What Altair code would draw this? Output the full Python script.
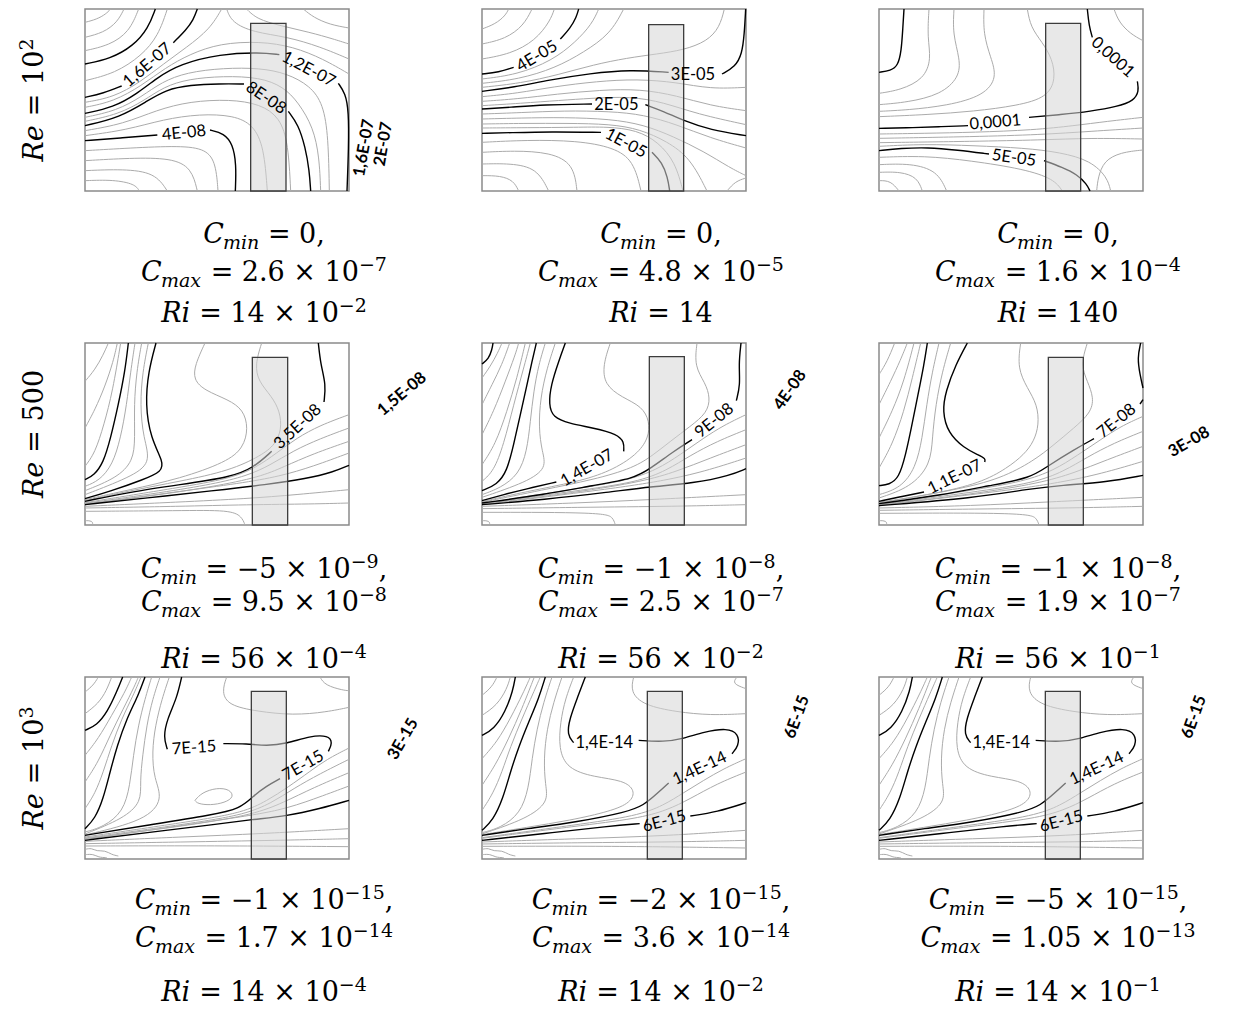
import altair as alt
import pandas as pd

# ---------------------------------------------------------------
# Concentration iso-lines behind a porous block, for three Reynolds
# numbers (rows) and three Richardson numbers (columns).
# Field coordinates are grid units of the sampled domain.
# ---------------------------------------------------------------
XLIM = (15, 807)
YLIM = (15, 561)
PANEL_W, PANEL_H = 264, 182
COL_GAP, ROW_GAP = 133, 152

GRAY = "#ababab"
MATH_FONT = "DejaVu Serif"
LABEL_FONT = "Lato"

RE = ["10^2", "500", "10^3"]
CMIN = ["0", "0", "0", "−5 × 10^−9", "−1 × 10^−8", "−1 × 10^−8",
        "−1 × 10^−15", "−2 × 10^−15", "−5 × 10^−15"]
CMAX = ["2.6 × 10^−7", "4.8 × 10^−5", "1.6 × 10^−4", "9.5 × 10^−8", "2.5 × 10^−7",
        "1.9 × 10^−7", "1.7 × 10^−14", "3.6 × 10^−14", "1.05 × 10^−13"]
RI = ["14 × 10^−2", "14", "140", "56 × 10^−4", "56 × 10^−2", "56 × 10^−1",
      "14 × 10^−4", "14 × 10^−2", "14 × 10^−1"]

# porous block: left, right, top (bottom is the wall)
BOXES = [(512, 618, 58), (515, 620, 62), (515, 620, 58),
         (517, 623, 58), (517, 622, 56), (523, 628, 58),
         (514, 619, 58), (511, 616, 58), (514, 619, 58)]

# level labels of the far-field iso-lines, written past the right edge
EDGE_LABELS = [
    [("1,6E-07", 852, 432, 280), ("2E-07", 910, 420, 280)],
    [], [],
    [("1,5E-08", 966, 168, 320)],
    [("4E-08", 939, 156, 305)],
    [("3E-08", 945, 312, 330)],
    [("3E-15", 969, 201, 300)],
    [("6E-15", 960, 135, 290)],
    [("6E-15", 960, 135, 290)],
]

# ---------------- Re = 1e2, Ri = 14e-2 ----------------
P1_GRAY = [
    [(15, 55), (50, 46), (78, 30), (92, 15)],
    [(15, 100), (70, 86), (112, 55), (132, 15)],
    [(15, 140), (88, 124), (148, 84), (176, 15)],
    [(15, 230), (105, 208), (185, 155), (235, 95), (262, 15)],
    [(15, 295), (100, 280), (180, 235), (250, 180), (320, 130), (390, 75), (425, 15)],
    [(15, 310), (100, 293), (185, 245), (255, 192), (330, 150), (420, 118), (540, 112),
     (640, 128), (730, 165), (807, 210)],
    [(440, 15), (455, 55), (520, 85), (620, 98), (720, 128), (807, 165)],
    [(500, 15), (530, 45), (600, 65), (690, 85), (760, 105), (807, 120)],
    [(670, 15), (700, 40), (750, 62), (807, 72)],
    [(15, 340), (110, 320), (185, 278), (245, 234), (320, 205), (430, 192), (540, 192),
     (620, 208), (690, 245), (730, 300), (745, 400), (748, 561)],
    [(15, 352), (115, 331), (192, 290), (252, 248), (325, 225), (430, 216), (540, 220),
     (610, 248), (655, 295), (700, 370), (718, 460), (722, 561)],
    [(15, 380), (130, 360), (230, 318), (330, 292), (450, 286), (540, 300), (600, 340),
     (625, 420), (632, 561)],
    [(15, 395), (140, 378), (250, 346), (360, 330), (460, 334), (520, 362), (552, 430), (562, 561)],
    [(15, 440), (150, 432), (300, 425), (380, 435), (408, 480), (414, 561)],
    [(15, 470), (150, 462), (275, 462), (335, 492), (352, 561)],
    [(15, 500), (130, 495), (225, 506), (262, 561)],
    [(15, 530), (100, 527), (165, 540), (178, 561)],
]
P1_BLACK = [
    [(15, 180), (90, 165), (160, 126), (205, 72), (226, 15)],
    [(15, 280), (70, 268), (125, 246)],
    [(280, 116), (318, 78), (340, 48), (352, 15)],
    [(15, 328), (100, 310), (170, 270), (230, 222), (300, 180), (420, 150), (540, 145), (598, 152)],
    [(775, 238), (796, 268), (806, 320), (806, 430), (801, 561)],
    [(15, 365), (120, 340), (200, 292), (258, 257), (330, 243), (420, 239), (492, 240)],
    [(625, 322), (655, 362), (676, 430), (688, 500), (692, 561)],
    [(15, 410), (120, 402), (232, 393)],
    [(390, 378), (432, 388), (458, 420), (469, 480), (466, 561)],
]
P1_LABELS = [("1,6E-07", 202, 183, 319), ("1,2E-07", 686, 196, 28),
             ("8E-08", 558, 282, 34), ("4E-08", 312, 387, 354)]

# ---------------- Re = 1e2, Ri = 14 ----------------
P2_GRAY = [
    [(15, 75), (55, 60), (85, 35), (95, 15)],
    [(15, 120), (85, 105), (140, 65), (165, 15)],
    [(15, 165), (100, 150), (175, 110), (220, 50), (232, 15)],
    [(15, 225), (120, 212), (225, 170), (295, 115), (345, 60), (365, 15)],
    [(15, 238), (125, 226), (235, 192), (320, 145), (400, 90), (440, 15)],
    [(15, 250), (130, 238), (245, 212), (350, 182), (450, 162), (540, 150), (620, 138),
     (690, 112), (728, 70), (742, 15)],
    [(15, 278), (120, 268), (230, 248), (360, 232), (480, 225), (600, 235), (700, 255), (807, 250)],
    [(15, 292), (120, 285), (240, 270), (370, 258), (490, 255), (600, 275), (700, 305), (807, 320)],
    [(15, 305), (130, 298), (250, 289), (340, 283), (460, 277), (560, 295), (660, 330), (807, 362)],
    [(15, 330), (130, 326), (260, 320), (400, 322), (500, 332), (600, 362), (700, 402), (807, 432)],
    [(15, 345), (130, 342), (260, 340), (400, 345), (500, 362), (590, 398), (680, 442),
     (760, 492), (807, 515)],
    [(15, 360), (140, 358), (270, 358), (400, 360), (490, 376), (570, 412), (640, 462), (690, 561)],
    [(15, 372), (150, 371), (300, 370), (390, 368), (480, 378), (545, 415), (595, 475), (618, 561)],
    [(15, 415), (150, 408), (300, 410), (410, 430), (470, 470), (492, 561)],
    [(15, 445), (110, 440), (220, 445), (290, 480), (300, 561)],
    [(15, 480), (100, 478), (180, 492), (215, 561)],
    [(15, 515), (70, 515), (110, 530), (125, 561)],
    [(750, 561), (775, 532), (807, 522)],
]
P2_BLACK = [
    [(15, 210), (65, 205), (110, 190)],
    [(250, 105), (280, 72), (298, 40), (305, 15)],
    [(15, 262), (110, 250), (215, 228), (340, 208), (460, 197), (575, 205)],
    [(735, 210), (775, 188), (795, 150), (802, 90), (806, 15)],
    [(15, 315), (100, 310), (200, 302), (345, 300)],
    [(505, 302), (560, 322), (620, 350), (700, 378), (807, 395)],
    [(15, 388), (100, 386), (220, 383), (372, 385)],
    [(525, 445), (555, 475), (572, 520), (578, 561)],
]
P2_LABELS = [("4E-05", 180, 157, 329), ("3E-05", 648, 212, 0),
             ("2E-05", 418, 302, 0), ("1E-05", 447, 418, 28)]

# ---------------- Re = 1e2, Ri = 140 ----------------
P3_GRAY = [
    [(165, 15), (160, 100), (172, 165), (150, 225), (80, 258), (15, 268)],
    [(240, 15), (236, 90), (258, 165), (256, 220), (200, 272), (100, 295), (15, 302)],
    [(330, 15), (328, 90), (350, 160), (370, 220), (330, 275), (220, 305), (100, 318), (15, 322)],
    [(460, 15), (470, 70), (505, 115), (535, 165), (545, 225), (520, 280), (430, 305),
     (300, 322), (160, 332), (15, 338)],
    [(720, 15), (735, 55), (770, 90), (807, 110)],
    [(807, 340), (700, 352), (600, 365), (480, 378), (300, 385), (150, 388), (15, 390)],
    [(807, 372), (650, 382), (500, 392), (300, 398), (15, 403)],
    [(807, 405), (650, 402), (500, 408), (300, 412), (15, 416)],
    [(15, 427), (150, 420), (300, 425), (450, 432), (560, 445), (650, 470), (700, 520), (710, 561)],
    [(807, 438), (740, 445), (690, 470), (672, 520), (668, 561)],
    [(15, 460), (150, 455), (290, 470), (450, 495), (540, 525), (565, 561)],
    [(15, 482), (110, 478), (190, 500), (218, 561)],
    [(15, 505), (80, 503), (130, 520), (145, 561)],
    [(15, 530), (50, 530), (75, 561)],
]
P3_BLACK = [
    [(15, 205), (50, 200), (72, 185), (82, 140), (86, 80), (90, 15)],
    [(15, 373), (120, 371), (200, 368), (282, 365)],
    [(465, 340), (560, 332), (650, 322), (730, 308), (780, 290), (795, 262), (790, 232)],
    [(655, 100), (645, 65), (640, 15)],
    [(15, 440), (80, 433), (160, 430), (250, 438), (345, 450)],
    [(510, 470), (565, 490), (610, 512), (638, 540), (648, 561)],
]
P3_LABELS = [("0,0001", 364, 355, 355), ("0,0001", 716, 160, 42), ("5E-05", 420, 462, 8)]

# ---------------- Re = 500, Ri = 56e-4 ----------------
P4_GRAY = [
    [(15, 130), (45, 95), (70, 50), (85, 15)],
    [(15, 270), (45, 215), (75, 145), (100, 70), (112, 15)],
    [(15, 385), (45, 345), (72, 260), (98, 160), (122, 15)],
    [(165, 15), (152, 100), (140, 200), (122, 300), (98, 380), (58, 428), (15, 445)],
    [(185, 15), (170, 100), (162, 200), (165, 300), (160, 370), (110, 420), (15, 458)],
    [(205, 15), (188, 100), (180, 200), (190, 300), (215, 375), (150, 418), (15, 470)],
    [(375, 15), (345, 80), (340, 125), (375, 158), (445, 185), (490, 215), (505, 270),
     (490, 330), (440, 372), (300, 422), (150, 455), (15, 485)],
    [(545, 15), (525, 80), (535, 130), (575, 175), (600, 220), (605, 275), (585, 320),
     (545, 352), (450, 398), (300, 430), (150, 458), (15, 488)],
    [(807, 230), (720, 262), (650, 300), (590, 345), (530, 388), (450, 422), (300, 448), (15, 494)],
    [(807, 270), (720, 302), (640, 338), (570, 382), (500, 414), (400, 438), (250, 463), (15, 496)],
    [(807, 310), (700, 347), (610, 387), (540, 417), (400, 446), (200, 476), (15, 498)],
    [(807, 345), (700, 385), (600, 415), (480, 436), (300, 460), (15, 499)],
    [(15, 505), (300, 492), (500, 482), (650, 470), (807, 455)],
    [(15, 510), (300, 505), (500, 500), (700, 498), (807, 495)],
    [(15, 520), (300, 518), (450, 516), (485, 535), (495, 561)],
    [(15, 548), (38, 548), (38, 561)],
]
P4_BLACK = [
    [(145, 15), (135, 100), (115, 200), (92, 300), (70, 375), (42, 412), (15, 425)],
    [(228, 15), (205, 100), (196, 200), (212, 300), (250, 372), (246, 400), (190, 425),
     (90, 460), (15, 482)],
    [(15, 490), (150, 462), (300, 440), (450, 418), (520, 390), (575, 340)],
    [(732, 192), (738, 140), (722, 80), (715, 15)],
    [(15, 500), (200, 480), (400, 458), (560, 440), (680, 422), (760, 402), (807, 382)],
]
P4_LABELS = [("3,5E-08", 653, 266, 317)]

# ---------------- Re = 500, Ri = 56e-2 ----------------
P5_GRAY = [
    [(15, 120), (40, 85), (62, 45), (75, 15)],
    [(15, 200), (45, 140), (75, 80), (98, 15)],
    [(15, 290), (50, 220), (85, 130), (115, 50), (125, 15)],
    [(15, 380), (55, 320), (90, 220), (120, 120), (145, 15)],
    [(15, 430), (50, 400), (80, 320), (110, 200), (140, 90), (160, 15)],
    [(205, 15), (185, 80), (170, 160), (160, 250), (150, 340), (125, 410), (70, 450), (15, 470)],
    [(235, 15), (210, 90), (190, 180), (185, 270), (195, 340), (210, 390), (150, 432), (15, 478)],
    [(400, 15), (378, 80), (382, 140), (435, 178), (495, 205), (518, 250), (515, 300),
     (480, 350), (400, 400), (300, 432), (150, 460), (15, 491)],
    [(660, 15), (652, 85), (685, 135), (700, 180), (690, 225), (640, 265), (580, 310),
     (530, 350), (470, 390), (350, 425), (200, 455), (15, 493)],
    [(807, 230), (740, 262), (680, 300), (610, 350), (540, 395), (450, 428), (300, 452), (15, 497)],
    [(807, 275), (720, 310), (640, 352), (570, 397), (480, 433), (300, 458), (15, 498)],
    [(807, 320), (700, 360), (600, 400), (500, 430), (300, 463), (15, 499)],
    [(807, 360), (700, 395), (580, 425), (400, 453), (15, 500)],
    [(15, 505), (300, 495), (520, 485), (807, 470)],
    [(15, 512), (300, 508), (600, 505), (807, 500)],
    [(15, 523), (380, 523), (408, 538), (415, 561)],
    [(15, 548), (38, 548), (38, 561)],
]
P5_BLACK = [
    [(15, 78), (35, 62), (45, 35), (48, 15)],
    [(178, 15), (165, 70), (150, 140), (130, 230), (110, 320), (90, 400), (60, 440), (15, 458)],
    [(265, 15), (245, 70), (222, 140), (215, 200), (228, 238), (275, 256), (350, 270),
     (420, 288), (442, 312), (440, 340)],
    [(238, 432), (150, 452), (80, 470), (15, 488)],
    [(15, 495), (200, 470), (350, 442), (470, 422), (520, 392), (590, 340), (645, 305)],
    [(778, 188), (790, 140), (785, 80), (792, 15)],
    [(15, 500), (200, 485), (400, 462), (520, 446), (650, 436), (760, 412), (807, 392)],
]
P5_LABELS = [("1,4E-07", 330, 390, 330), ("9E-08", 712, 248, 321)]

# ---------------- Re = 500, Ri = 56e-1 ----------------
P6_GRAY = [
    [(15, 110), (40, 70), (62, 15)],
    [(15, 200), (50, 130), (80, 65), (100, 15)],
    [(15, 300), (55, 220), (90, 130), (120, 15)],
    [(15, 390), (55, 320), (90, 220), (115, 120), (140, 15)],
    [(195, 15), (175, 100), (158, 200), (145, 300), (125, 390), (80, 450), (15, 470)],
    [(230, 15), (205, 100), (185, 200), (175, 300), (170, 380), (110, 448), (15, 480)],
    [(440, 15), (430, 90), (460, 150), (490, 200), (495, 260), (480, 310), (450, 350),
     (400, 390), (320, 435), (180, 468), (15, 493)],
    [(640, 15), (620, 80), (640, 130), (660, 180), (650, 225), (600, 270), (540, 320),
     (480, 368), (380, 422), (250, 455), (15, 495)],
    [(807, 235), (740, 265), (680, 305), (610, 352), (540, 397), (450, 430), (300, 456), (15, 499)],
    [(807, 280), (720, 315), (640, 357), (570, 400), (480, 435), (300, 462), (15, 500)],
    [(807, 325), (700, 365), (600, 405), (500, 435), (300, 468), (15, 501)],
    [(807, 370), (700, 402), (580, 430), (400, 458), (15, 502)],
    [(15, 510), (300, 503), (520, 492), (807, 478)],
    [(15, 517), (300, 513), (600, 510), (807, 505)],
    [(15, 526), (460, 524), (488, 540), (495, 561)],
    [(15, 548), (38, 548), (38, 561)],
]
P6_BLACK = [
    [(160, 15), (150, 80), (132, 170), (112, 270), (95, 350), (75, 420), (45, 440), (15, 443)],
    [(280, 15), (245, 80), (215, 160), (205, 220), (222, 285), (270, 330), (315, 352),
     (335, 362), (332, 372)],
    [(150, 462), (85, 475), (15, 490)],
    [(15, 497), (200, 472), (350, 442), (470, 420), (520, 385), (600, 335), (660, 302)],
    [(798, 198), (807, 185)],
    [(807, 150), (798, 110), (790, 60), (800, 15)],
    [(15, 503), (300, 480), (470, 452), (560, 442), (700, 432), (807, 412)],
]
P6_LABELS = [("1,1E-07", 242, 417, 334), ("7E-08", 728, 249, 321)]

# ---------------- Re = 1e3, Ri = 14e-4 ----------------
P7_GRAY = [
    [(15, 60), (40, 40), (55, 15)],
    [(15, 125), (55, 95), (80, 55), (95, 15)],
    [(15, 250), (55, 200), (95, 130), (135, 60), (155, 15)],
    [(15, 330), (55, 270), (90, 190), (130, 110), (165, 40), (175, 15)],
    [(15, 410), (45, 365), (70, 300), (95, 220), (125, 140), (160, 70), (183, 15)],
    [(215, 15), (195, 80), (175, 160), (160, 250), (150, 340), (130, 420), (70, 465), (15, 480)],
    [(240, 15), (218, 80), (200, 160), (188, 250), (180, 330), (185, 390), (130, 440), (15, 486)],
    [(268, 15), (246, 80), (226, 160), (216, 240), (222, 320), (250, 380), (200, 445), (15, 489)],
    [(345, 385), (365, 362), (410, 347), (450, 352), (462, 375), (435, 392), (390, 400),
     (352, 395), (345, 385)],
    [(440, 15), (425, 60), (445, 100), (530, 118), (640, 130), (740, 120), (807, 106)],
    [(720, 15), (735, 40), (790, 55), (807, 56)],
    [(807, 228), (740, 262), (690, 298), (625, 345), (560, 387), (490, 421), (350, 446), (15, 495)],
    [(807, 262), (720, 305), (640, 350), (575, 393), (495, 427), (350, 452), (15, 498)],
    [(807, 302), (700, 347), (610, 392), (522, 427), (350, 457), (15, 500)],
    [(807, 342), (700, 382), (600, 416), (450, 440), (15, 502)],
    [(15, 508), (300, 495), (550, 485), (807, 470)],
    [(15, 515), (300, 510), (600, 505), (807, 500)],
    [(15, 522), (400, 521), (807, 524)],
    [(15, 532), (35, 528), (50, 538), (75, 535), (95, 548), (115, 552)],
    [(15, 548), (40, 546), (55, 556), (80, 557)],
]
P7_BLACK = [
    [(15, 175), (50, 160), (82, 120), (110, 60), (128, 15)],
    [(195, 15), (175, 70), (140, 140), (112, 220), (90, 300), (70, 380), (45, 440), (15, 470)],
    [(305, 15), (290, 80), (262, 140), (250, 195), (262, 232)],
    [(430, 215), (500, 215), (560, 222), (620, 215), (690, 192), (745, 190), (758, 212), (745, 238)],
    [(600, 320), (560, 342), (520, 372), (480, 410), (400, 428), (200, 460), (15, 490)],
    [(15, 505), (200, 482), (400, 458), (520, 442), (620, 432), (720, 410), (807, 385)],
]
P7_LABELS = [("7E-15", 342, 228, 356), ("7E-15", 670, 281, 330)]

# ---------------- Re = 1e3, Ri = 14e-2 and 14e-1 ----------------
P8_GRAY = [
    [(15, 70), (45, 45), (60, 15)],
    [(15, 130), (60, 100), (90, 50), (100, 15)],
    [(15, 260), (60, 210), (100, 140), (140, 60), (160, 15)],
    [(15, 340), (55, 280), (95, 200), (135, 110), (172, 15)],
    [(15, 415), (48, 365), (75, 300), (100, 225), (135, 140), (170, 60), (190, 15)],
    [(225, 15), (200, 90), (180, 170), (165, 260), (155, 350), (130, 425), (70, 468), (15, 482)],
    [(255, 15), (230, 90), (210, 170), (200, 260), (205, 340), (215, 390), (150, 440), (15, 486)],
    [(290, 15), (265, 80), (250, 150), (245, 230), (270, 290), (350, 315), (440, 325),
     (475, 355), (462, 392), (400, 418), (280, 445), (150, 466), (15, 488)],
    [(470, 15), (460, 60), (500, 100), (600, 120), (700, 130), (807, 125)],
    [(780, 15), (765, 35), (807, 50)],
    [(807, 260), (740, 290), (680, 325), (620, 362), (560, 400), (480, 432), (300, 458), (15, 497)],
    [(807, 300), (720, 335), (640, 380), (570, 415), (480, 440), (300, 462), (15, 499)],
    [(15, 510), (300, 500), (560, 492), (807, 475)],
    [(15, 516), (300, 512), (600, 510), (807, 505)],
    [(15, 523), (400, 522), (807, 528)],
    [(15, 532), (35, 528), (50, 538), (75, 535), (95, 548), (115, 552)],
    [(15, 548), (40, 546), (55, 556), (80, 557)],
]
P8_BLACK = [
    [(15, 190), (50, 172), (85, 120), (108, 55), (115, 15)],
    [(205, 15), (185, 80), (155, 150), (125, 225), (100, 300), (78, 380), (48, 445), (15, 475)],
    [(325, 15), (300, 80), (278, 140), (270, 188), (290, 212)],
    [(485, 205), (560, 210), (620, 200), (680, 180), (750, 168), (785, 185), (785, 222), (765, 245)],
    [(575, 333), (540, 365), (500, 400), (450, 420), (300, 450), (150, 470), (15, 490)],
    [(15, 505), (200, 485), (400, 462), (488, 455)],
    [(640, 432), (720, 420), (807, 392)],
]
P8_LABELS = [("1,4E-14", 382, 214, 0), ("1,4E-14", 668, 289, 335), ("6E-15", 562, 448, 345)]

P9_GRAY, P9_BLACK, P9_LABELS = P8_GRAY, P8_BLACK, P8_LABELS

PANELS = [
    (P1_GRAY, P1_BLACK, P1_LABELS), (P2_GRAY, P2_BLACK, P2_LABELS), (P3_GRAY, P3_BLACK, P3_LABELS),
    (P4_GRAY, P4_BLACK, P4_LABELS), (P5_GRAY, P5_BLACK, P5_LABELS), (P6_GRAY, P6_BLACK, P6_LABELS),
    (P7_GRAY, P7_BLACK, P7_LABELS), (P8_GRAY, P8_BLACK, P8_LABELS), (P9_GRAY, P9_BLACK, P9_LABELS),
]

# ---------------- math caption layout ----------------
EM = {" ": .318, ".": .318, ",": .318, "=": .838, "×": .838, "−": .838,
      "C": .735, "R": .770, "e": .592, "i": .320, "m": .948, "n": .644, "a": .596, "x": .620}
for _d in "0123456789":
    EM[_d] = .636

FS_MAIN, FS_SMALL = 27, 19
SHIFT = {"base": 0, "sub": 6, "sup": -10}
CAPTION_CX = 179
BASELINES = [(234, 272, 313), (235, 268, 325), (232, 270, 324)]
RE_BASE_X, RE_CY = -42, 91


def text_width(s, size):
    return sum(EM.get(ch, 0.6) for ch in s) * size


def math_tokens(var, sub, value, trail=""):
    toks = [(var, "italic", "base")]
    if sub:
        toks.append((sub, "italic", "sub"))
    if "^" in value:
        mant, exp = value.split("^")
        toks.append((" = " + mant, "normal", "base"))
        toks.append((exp, "normal", "sup"))
    else:
        toks.append((" = " + value, "normal", "base"))
    if trail:
        toks.append((trail, "normal", "base"))
    return toks


def runs(toks):
    """Split tokens so that no drawn string starts or ends with a space;
    leading spaces become an advance before the string."""
    out = []
    for t, st, r in toks:
        size = FS_MAIN if r == "base" else FS_SMALL
        lead = len(t) - len(t.lstrip(" "))
        body = t.strip(" ")
        trail = len(t) - len(t.rstrip(" "))
        out.append((body, st, r, size, lead * EM[" "] * size, text_width(body, size),
                    trail * EM[" "] * size))
    return out


def place_row(toks, cx, base_y):
    rr = runs(toks)
    total = sum(a + w + b for _, _, _, _, a, w, b in rr)
    x = cx - total / 2
    out = []
    for body, st, r, size, a, w, b in rr:
        x += a
        out.append(dict(px=x, py=base_y + SHIFT[r], txt=body.replace(" ", "\u00a0"), fs=size, st=st))
        x += w + b
    return out


def place_column(toks, base_x, cy):
    rr = runs(toks)
    total = sum(a + w + b for _, _, _, _, a, w, b in rr)
    y = cy + total / 2
    out = []
    for body, st, r, size, a, w, b in rr:
        y -= a
        out.append(dict(px=base_x + SHIFT[r], py=y, txt=body.replace(" ", "\u00a0"), fs=size, st=st))
        y -= w + b
    return out


def segments(segs):
    rows = []
    for k, seg in enumerate(segs):
        for i, (x, y) in enumerate(seg):
            rows.append({"lid": k, "i": i, "x": x, "y": y})
    return pd.DataFrame(rows)


def panel_chart(k, row, col):
    gray, black, labels = PANELS[k]
    xs = alt.Scale(domain=list(XLIM), nice=False, zero=False)
    ys = alt.Scale(domain=list(YLIM), nice=False, zero=False, reverse=True)
    X = alt.X("x:Q", scale=xs, axis=None)
    Y = alt.Y("y:Q", scale=ys, axis=None)

    layers = [
        alt.Chart(segments(gray)).mark_line(color=GRAY, strokeWidth=1, interpolate="basis")
        .encode(x=X, y=Y, detail="lid:N", order="i:Q"),
        alt.Chart(segments(black)).mark_line(color="black", strokeWidth=1.4, interpolate="basis")
        .encode(x=X, y=Y, detail="lid:N", order="i:Q"),
    ]
    b = BOXES[k]
    box = pd.DataFrame([{"x": b[0], "x2": b[1], "y": b[2], "y2": YLIM[1]}])
    layers.append(
        alt.Chart(box).mark_rect(fill="#d6d6d6", fillOpacity=0.55, stroke="#3c3c3c", strokeWidth=1.3)
        .encode(x=X, x2="x2:Q", y=Y, y2="y2:Q")
    )
    lab = pd.DataFrame(labels, columns=["t", "x", "y", "a"])
    layers.append(
        alt.Chart(lab).mark_text(font=LABEL_FONT, fontSize=16.5, color="black", align="center", baseline="middle")
        .encode(x=X, y=Y, text="t:N", angle=alt.Angle("a:Q", scale=None))
    )
    if EDGE_LABELS[k]:
        edge = pd.DataFrame(EDGE_LABELS[k], columns=["t", "x", "y", "a"])
        layers.append(
            alt.Chart(edge).mark_text(font=LABEL_FONT, fontSize=16.5, fontWeight="bold", color="black",
                                      align="center", baseline="middle")
            .encode(x=X, y=Y, text="t:N", angle=alt.Angle("a:Q", scale=None))
        )

    b1, b2, b3 = BASELINES[row]
    cap = []
    cap += place_row(math_tokens("C", "min", CMIN[k], ","), CAPTION_CX, b1)
    cap += place_row(math_tokens("C", "max", CMAX[k]), CAPTION_CX, b2)
    cap += place_row(math_tokens("Ri", None, RI[k]), CAPTION_CX, b3)
    cap = pd.DataFrame(cap)
    PX = alt.X("px:Q", scale=None, axis=None)
    PY = alt.Y("py:Q", scale=None, axis=None)
    FS = alt.Size("fs:Q", scale=None, legend=None)
    for style in ("italic", "normal"):
        d = cap[cap["st"] == style]
        layers.append(
            alt.Chart(d).mark_text(font=MATH_FONT, fontStyle=style, align="left",
                                   baseline="alphabetic", color="black")
            .encode(x=PX, y=PY, text="txt:N", size=FS)
        )
    if col == 0:
        re = pd.DataFrame(place_column(math_tokens("Re", None, RE[row]), RE_BASE_X, RE_CY))
        for style in ("italic", "normal"):
            d = re[re["st"] == style]
            layers.append(
                alt.Chart(d).mark_text(font=MATH_FONT, fontStyle=style, align="left",
                                       baseline="alphabetic", color="black", angle=270)
                .encode(x=PX, y=PY, text="txt:N", size=FS)
            )
    return alt.layer(*layers).resolve_scale(x="independent", y="independent").properties(
        width=PANEL_W, height=PANEL_H)


chart = alt.concat(
    *[panel_chart(3 * r + c, r, c) for r in range(3) for c in range(3)],
    columns=3,
    spacing={"row": ROW_GAP, "column": COL_GAP},
    bounds="flush",
).properties(
    padding={"left": 17, "top": 5, "right": 5, "bottom": 5},
    background="white",
).configure_view(stroke="#8a8a8a", strokeWidth=1.5)

chart.save("out.html", embed_options={"renderer": "svg", "actions": False})
